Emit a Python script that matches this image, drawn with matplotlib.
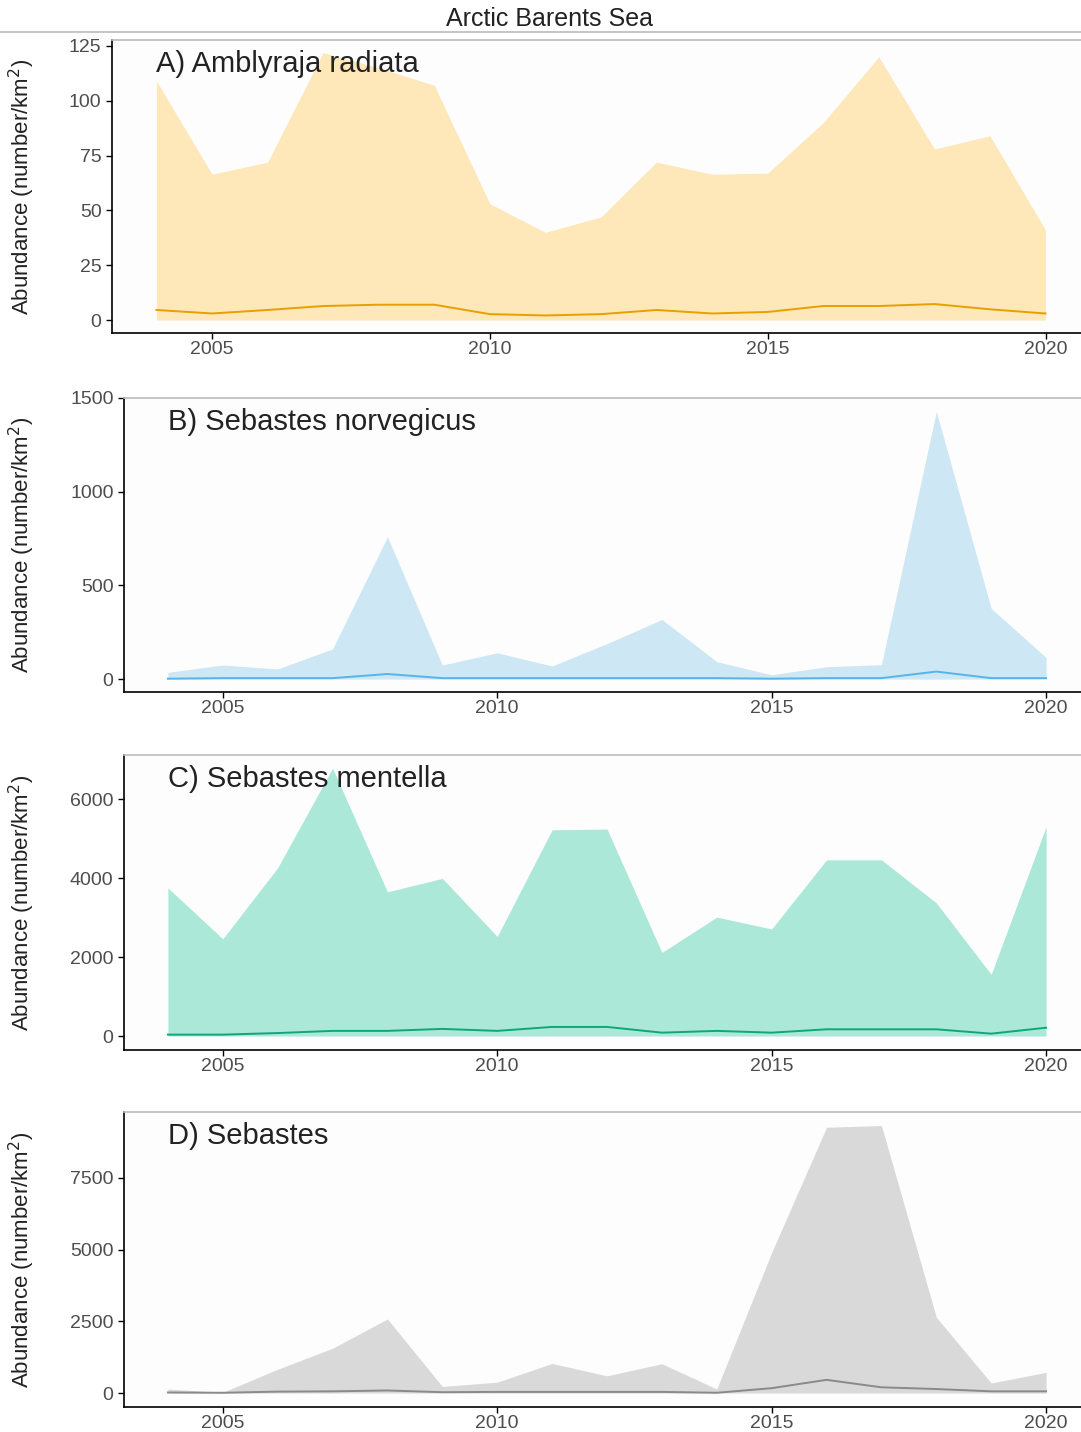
import matplotlib
matplotlib.use("Agg")
import matplotlib.pyplot as plt
import matplotlib.transforms as mtransforms
from matplotlib.lines import Line2D

plt.rcParams['font.family'] = ['Liberation Sans', 'DejaVu Sans']

years = [2004, 2005, 2006, 2007, 2008, 2009, 2010, 2011, 2012,
         2013, 2014, 2015, 2016, 2017, 2018, 2019, 2020]

# A) Amblyraja radiata
amb_upper = [109, 66.5, 72, 122, 115, 107, 53, 40, 47, 72, 66.5, 67, 90, 120, 78, 84, 41]
amb_mean = [4.6, 3.0, 4.6, 6.4, 7.0, 7.0, 2.7, 2.1, 2.7, 4.6, 3.0, 3.7, 6.4, 6.4, 7.3, 4.9, 3.0]

# B) Sebastes norvegicus
nor_upper = [36, 75, 54, 161, 759, 75, 140, 70, 189, 318, 93, 23, 66, 77, 1428, 377, 115]
nor_mean = [2, 5, 5, 5, 27, 5, 5, 5, 5, 5, 5, 2, 5, 5, 40, 5, 5]

# C) Sebastes mentella
men_upper = [3750, 2460, 4260, 6780, 3650, 3990, 2520, 5220, 5240, 2115, 3010, 2710,
             4460, 4460, 3370, 1560, 5300]
men_mean = [35, 35, 75, 130, 130, 180, 130, 230, 230, 85, 130, 85, 170, 170, 170, 60, 210]

# D) Sebastes
seb_upper = [140, 25, 830, 1560, 2580, 230, 380, 1030, 600, 1020, 140, 4900,
             9260, 9320, 2640, 350, 720]
seb_mean = [20, 10, 50, 60, 90, 30, 40, 40, 40, 40, 10, 170, 460, 200, 140, 60, 60]

panels = [
    ("A) Amblyraja radiata", amb_upper, amb_mean, "#E6A000", "#FEE7B8",
     [0, 25, 50, 75, 100, 125], (-5.9, 127.7)),
    ("B) Sebastes norvegicus", nor_upper, nor_mean, "#56B4E9", "#CDE7F5",
     [0, 500, 1000, 1500], (-69, 1500)),
    ("C) Sebastes mentella", men_upper, men_mean, "#0FA77A", "#ABE8D7",
     [0, 2000, 4000, 6000], (-354, 7114)),
    ("D) Sebastes", seb_upper, seb_mean, "#8A8A8A", "#D9D9D9",
     [0, 2500, 5000, 7500], (-486, 9792)),
]

# pixel boxes (left, top, bottom) of each panel in the 1081x1432 image
boxes = [(112, 40, 333), (124, 398, 692), (124, 755, 1050), (124, 1112, 1407)]

W, H = 1081, 1432
fig = plt.figure(figsize=(W / 100, H / 100), dpi=100)
fig.patch.set_facecolor('white')

fig.text(549 / W, 1 - 19 / H, "Arctic Barents Sea", ha='center', va='center',
         fontsize=18, color='#222222')
fig.add_artist(Line2D([0, 1], [1 - 32 / H, 1 - 32 / H], transform=fig.transFigure,
                      color='#BBBBBB', lw=1.2))

for (label, upper, mean, color, fill, yticks, ylim), (lpx, tpx, bpx) in zip(panels, boxes):
    right_px = 1090
    ax = fig.add_axes([lpx / W, 1 - bpx / H, (right_px - lpx) / W, (bpx - tpx) / H])
    ax.set_facecolor('#FDFDFD')
    lower = [0] * len(years)
    ax.fill_between(years, lower, upper, color=fill, lw=0)
    ax.plot(years, mean, color=color, lw=1.4)

    ax.set_xlim(2003.2, 2020.8)
    ax.set_ylim(*ylim)
    ax.set_xticks([2005, 2010, 2015, 2020])
    ax.set_yticks(yticks)
    ax.tick_params(axis='both', labelsize=14, labelcolor='#4D4D4D', color='black',
                   length=4, width=1)
    ax.tick_params(axis='x', pad=1.5)

    ax.spines['right'].set_visible(False)
    ax.spines['top'].set_color('#BBBBBB')
    ax.spines['top'].set_linewidth(1.2)
    ax.spines['left'].set_linewidth(1.2)
    ax.spines['bottom'].set_linewidth(1.2)

    ax.set_ylabel("Abundance (number/km$^2$)", fontsize=16, color='#222222',
                  va='center')
    tr = mtransforms.blended_transform_factory(fig.transFigure, ax.transAxes)
    ax.yaxis.set_label_coords(22 / W, 0.5, transform=tr)

    ax.annotate(label, xy=(2004, 1), xycoords=ax.get_xaxis_transform(),
                xytext=(0, -7), textcoords='offset points',
                ha='left', va='top', fontsize=21, color='#222222')

fig.savefig("out.png", dpi=100)
